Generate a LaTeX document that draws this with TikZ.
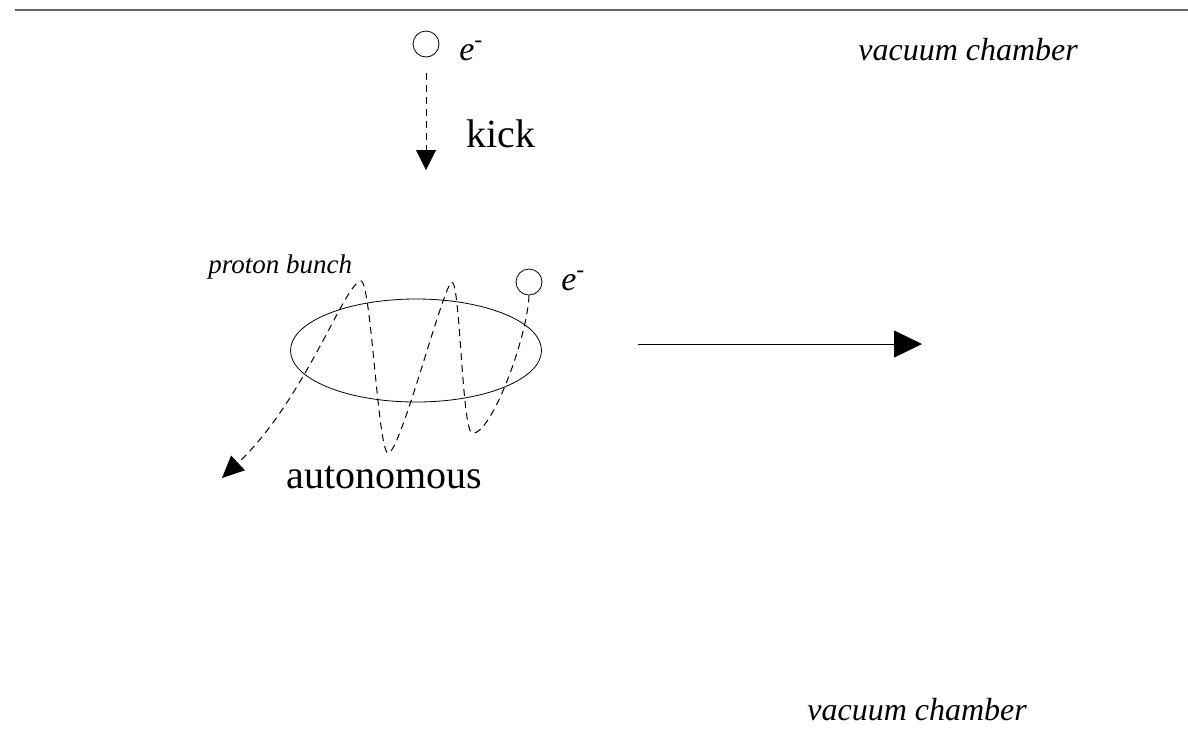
\documentclass[tikz,border=0pt]{standalone}
\usepackage{fontspec}
\setmainfont{Liberation Serif}
\usetikzlibrary{arrows.meta,positioning,shapes.geometric}

\begin{document}
\begin{tikzpicture}[x=0.5pt,y=-0.5pt,
  elec/.style={draw,circle,inner sep=0pt,minimum size=13pt},
  track/.style={dash pattern=on 3.5pt off 2.5pt,line width=0.5pt},
  lbl/.style={anchor=base west,inner sep=0pt},
  big/.style={lbl,font=\fontsize{20pt}{24pt}\selectfont},
  tag/.style={lbl,font=\fontsize{16pt}{19pt}\selectfont\itshape}]
  \useasboundingbox (0,0) rectangle (1188,752);

  % chamber wall
  \draw[line width=1pt,black!60] (15,10) -- (1188,10);
  \node[tag] (walltop) at (858,60) {vacuum chamber};
  \node[tag] (wallbot) at (807,720) {vacuum chamber};

  % electron before the kick
  \node[elec] (e1) at (426,44) {};
  \node[lbl,font=\fontsize{17pt}{20pt}\selectfont] (e1lbl) at (459,60) {\textit{e}\textsuperscript{-}};
  \coordinate (kickend) at (426,170);
  \draw[track,shorten <=8pt,-{Triangle[length=10pt,width=10pt]}] (e1) -- (kickend);
  \node[big] (kick) at (466,147) {kick};

  % proton bunch and electron motion
  \node[draw,ellipse,inner sep=0pt,minimum width=125.5pt,minimum height=51.5pt] (bunch) at (416,350.5) {};
  \node[lbl,font=\fontsize{13.5pt}{16pt}\selectfont\itshape] (bunchlbl) at (208,273) {proton bunch};
  \node[elec] (e2) at (529,282) {};
  \node[lbl,font=\fontsize{17pt}{20pt}\selectfont] (e2lbl) at (561,290) {\textit{e}\textsuperscript{-}};
  \coordinate (tail) at (222,478);
  \draw[track,-{Triangle[length=11pt,width=10pt]}] (e2.south)
    .. controls (527,340) and (490,437) .. (472,433)
    .. controls (462,430) and (460,282) .. (452,282)
    .. controls (444,282) and (400,455) .. (388,453)
    .. controls (378,452) and (371,281) .. (361,281)
    .. controls (345,282) and (305,400) .. (tail);
  \node[big] (auto) at (286,488) {autonomous};

  % bunch direction
  \coordinate (moveA) at (638,344);
  \coordinate (moveB) at (922,344);
  \draw[line width=0.5pt,-{Triangle[length=14pt,width=13.5pt]}] (moveA) -- (moveB);
\end{tikzpicture}
\end{document}
